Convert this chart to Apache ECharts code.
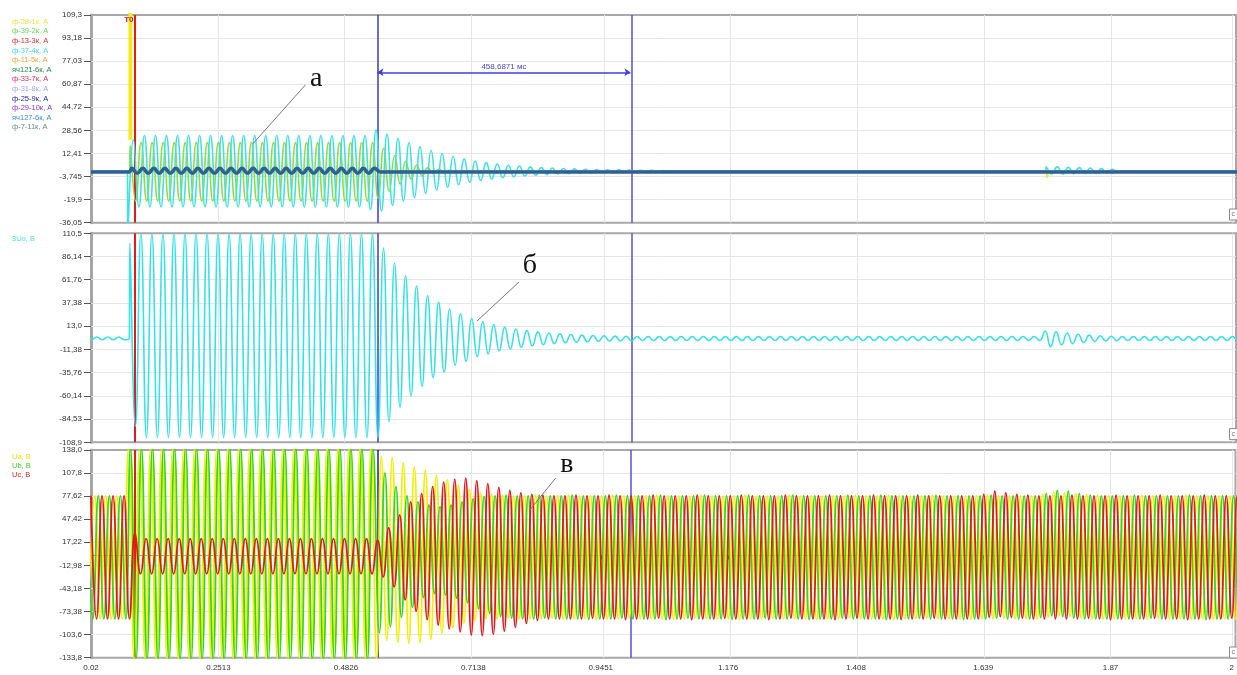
<!DOCTYPE html>
<html>
<head>
<meta charset="utf-8">
<title>Oscillogram</title>
<script src="https://cdn.jsdelivr.net/npm/echarts@6.0.0/dist/echarts.min.js"></script>
<style>
html,body{margin:0;padding:0;background:#fff;}
#chart{width:1237px;height:675px;}
</style>
</head>
<body>
<div id="chart"></div>
<script>
// ================= DATA =================
const HALF = 0.01; // half period of 50 Hz, s (spacing of successive extrema)

// x axis (time, s)
const xMin = 0.02, xMax = 2.0967;
const xTicks = [0.02, 0.2513, 0.4826, 0.7138, 0.9451, 1.176, 1.408, 1.639, 1.87, 2.09];
const xTickLabels = ['0.02', '0.2513', '0.4826', '0.7138', '0.9451', '1.176', '1.408', '1.639', '1.87', '2'];

// y axes
const y1Ticks = [109.3, 93.18, 77.03, 60.87, 44.72, 28.56, 12.41, -3.745, -19.9, -36.05];
const y1Labels = ['109,3', '93,18', '77,03', '60,87', '44,72', '28,56', '12,41', '-3,745', '-19,9', '-36,05'];
const y2Ticks = [110.5, 86.14, 61.76, 37.38, 13.0, -11.38, -35.76, -60.14, -84.53, -108.9];
const y2Labels = ['110,5', '86,14', '61,76', '37,38', '13,0', '-11,38', '-35,76', '-60,14', '-84,53', '-108,9'];
const y3Ticks = [138.0, 107.8, 77.62, 47.42, 17.22, -12.98, -43.18, -73.38, -103.6, -133.8];
const y3Labels = ['138,0', '107,8', '77,62', '47,42', '17,22', '-12,98', '-43,18', '-73,38', '-103,6', '-133,8'];

// cursors
const tT0 = 0.098, tCur1 = 0.5396, tCur2 = 0.9983;
const cursorText = '458,6871 мс';

// channel names / colours
const currentNames = ['ф-28-1к, А', 'ф-39-2к, А', 'ф-13-3к, А', 'ф-37-4к, А', 'ф-11-5к, А', 'яч121-6к, А',
  'ф-33-7к, А', 'ф-31-8к, А', 'ф-25-9к, А', 'ф-29-10к, А', 'яч127-6к, А', 'ф-7-11к, А'];
const currentColors = ['#efe33a', '#5ed94a', '#e02a2a', '#3fdede', '#f0a436', '#1f8a3f',
  '#e22a5e', '#a3a3ef', '#1f1f9e', '#8a35e0', '#3d8de6', '#62908a'];
const u0Names = ['3Uo, В'];
const u0Colors = ['#45e3ef'];
const phaseNames = ['Ua, В', 'Ub, В', 'Uc, В'];
const phaseColors = ['#efe300', '#44d822', '#e22222'];

// ---- panel 1: currents (extrema every HALF seconds) ----
const flatZero = [[0.02, 0], [2.1, 0]];
const f28Base = [[0.02, 0], [1.7525, 0], [1.754, -4.5], [1.7555, 0], [2.1, 0]];
const f28Spike = [[0.0915, 22], [0.0915, 150]];

const cyanStart = 0.0869;
const cyanFault = [-42, 22,
  -25, 25, -25, 25, -25, 25, -25, 25, -25, 25,
  -25, 25, -25, 25, -25, 25, -25, 25, -25, 25,
  -25, 25, -25, 25, -25, 25, -25, 25, -25, 25,
  -25, 25, -25, 25, -25, 25, -25, 25, -25, 25,
  -25, 25,
  -27, 29];
const cyanPost = [-28, 26, -24, 23, -21, 20, -18.5, 17, -15.5, 14.5, -13.3, 12.3, -11.2, 10.3, -9.4, 8.6,
  -7.8, 7.1, -6.5, 6, -5.5, 5, -4.6, 4.2, -3.9, 3.6, -3.3, 3, -2.8, 2.6, -2.4, 2.2, -2, 1.9, -1.7, 1.6,
  -1.5, 1.4, -1.3, 1.2, -1.1, 1, -1, 0.9, -0.9, 0.8, -0.8, 0.7, -0.7, 0.6, -0.6, 0.5, -0.5, 0];
const cyanBurstStart = 1.7525;
const cyanBurst = [3, -2, 3, -2, 2.8, -1.8, 2.5, -1.6, 2.2, -1.4, 1.8, -1.1, 1.3, -0.6];

const greenStart = 0.0909;
const greenFault = [18,
  -21, 20, -21, 20, -21, 20, -21, 20, -21, 20,
  -21, 20, -21, 20, -21, 20, -21, 20, -21, 20,
  -21, 20, -21, 20, -21, 20, -21, 20, -21, 20,
  -21, 20, -21, 20, -21, 20, -21, 20, -21, 20,
  -21, 20, -21, 20];
const greenPost = [-19, 16, -14, 11, -9, 7, -5.5, 4.3, -3.3, 2.5, -1.8, 1.3, -0.9, 0.6, -0.3, 0];

const darkStart = 0.0939;
const darkFault = [2, -1.5, 2, -1.5, 2, -1.5, 2, -1.5, 2, -1.5,
  2, -1.5, 2, -1.5, 2, -1.5, 2, -1.5, 2, -1.5,
  2, -1.5, 2, -1.5, 2, -1.5, 2, -1.5, 2, -1.5,
  2, -1.5, 2, -1.5, 2, -1.5, 2, -1.5, 2, -1.5,
  2, -1.5, 2, -1.5, 2];

// ---- panel 2: 3Uo ----
const u0PreStart = 0.0105;
const u0Pre = [1.6, -1.2, 1.6, -1.2, 1.6, -1.2, 1.6, -1.2];
const u0Edge = [[0.0895, 0.4]];
const u0Start = 0.0905;
const u0Fault = [100, -92,
  110, -104, 110, -104, 110, -104, 110, -104, 110, -104,
  110, -104, 110, -104, 110, -104, 110, -104, 110, -104,
  110, -104, 110, -104, 110, -104, 110, -104, 110, -104,
  110, -104, 110, -104, 110, -104, 110, -104, 110, -104,
  110, -104,
  110];
const u0Decay = [-104, 95, -87, 79, -72, 66, -60, 55, -50, 45, -41, 38, -35, 31, -28, 26, -24, 21, -19, 17.5,
  -16, 14.5, -13, 12, -11, 10, -9, 8.3, -7.6, 7, -6.4, 5.8, -5.3, 4.9, -4.5, 4.2, -3.9, 3.6, -3.4, 3.2,
  -3, 2.8, -2.7, 2.6, -2.5, 2.4, -2.3, 2.2];
const u0Ripple1 = [-2, 2.2, -2, 2.2, -2, 2.2, -2, 2.2, -2, 2.2, -2, 2.2, -2, 2.2, -2, 2.2, -2, 2.2, -2, 2.2,
  -2, 2.2, -2, 2.2, -2, 2.2, -2, 2.2, -2, 2.2, -2, 2.2, -2, 2.2, -2, 2.2, -2, 2.2, -2, 2.2,
  -2, 2.2, -2, 2.2, -2, 2.2, -2, 2.2, -2, 2.2, -2, 2.2, -2, 2.2, -2, 2.2, -2, 2.2, -2, 2.2,
  -2, 2.2, -2, 2.2, -2, 2.2, -2, 2.2, -2, 2.2, -2, 2.2, -2];
const u0Burst = [8, -8.5, 7, -6.5, 5.8, -5.3, 4.6, -4.1, 3.6, -3.2, 2.9, -2.6, 2.4, -2.2];
const u0Ripple2 = [2.2, -2, 2.2, -2, 2.2, -2, 2.2, -2, 2.2, -2, 2.2, -2, 2.2, -2, 2.2, -2, 2.2, -2, 2.2, -2,
  2.2, -2, 2.2, -2];

// ---- panel 3: phase voltages (segment start times + extrema) ----
const uaPreStart = 0.0167;
const uaPre = [-83, 78, -83, 78, -83, 78, -83];
const uaFaultStart = 0.0884;
const uaFault = [141, -137, 141, -137, 141, -137, 141, -137, 141, -137,
  141, -137, 141, -137, 141, -137, 141, -137, 141, -137,
  141, -137, 141, -137, 141, -137, 141, -137, 141, -137,
  141, -137, 141, -137, 141, -137, 141, -137, 141, -137,
  141, -137, 141, -137, 141, -137];
const uaPostStart = 0.5467;
const uaPost = [130, -111, 128, -114, 121, -115, 116, -114, 112, -110,
  105, -102, 99, -95, 92, -89, 86, -85, 82, -83,
  80, -83, 79, -82, 78, -83];
const uaSteady = [78, -83, 79, -83, 78, -82, 78, -83, 79, -83,
  78, -83, 78, -84, 78, -83, 79, -83, 78, -82,
  78, -83, 78, -83, 79, -83, 78, -84, 78, -83,
  78, -82, 79, -83, 78, -83, 78, -83, 78, -84,
  79, -83, 78, -83, 78, -82, 78, -83, 79, -83,
  78, -83, 78, -84, 78, -83, 78, -83, 78, -82,
  79, -83, 78, -83, 78, -83, 79, -84, 78, -83,
  78, -83, 78, -82, 79, -83, 78, -83, 78, -83,
  78, -84, 78, -83, 79, -83, 78, -82, 78, -83,
  78, -83, 78, -83, 80, -81, 83, -79, 82, -80,
  81, -82, 80, -83, 79, -83, 78, -83, 78, -83,
  78, -83, 79, -83, 78, -82, 78, -83, 78, -83,
  79, -83, 78, -83, 78, -84, 78, -83, 78, -83, 78, -83];

const ubPreStart = 0.0133;
const ubPre = [78, -83, 78, -83, 78, -83, 78, -83];
const ubFaultStart = 0.0916;
const ubFault = [141,
  -137, 141, -137, 141, -137, 141, -137, 141, -137, 141,
  -137, 141, -137, 141, -137, 141, -137, 141, -137, 141,
  -137, 141, -137, 141, -137, 141, -137, 141, -137, 141,
  -137, 141, -137, 141, -137, 141, -137, 141, -137, 141,
  -137, 141, -137, 141];
const ubPostStart = 0.5433;
const ubPost = [-101, 108, -93, 90, -81, 78, -68, 70, -55, 66,
  -50, 64, -52, 66, -56, 70, -62, 74, -70, 77,
  -76, 78, -80, 79, -82, 78];
const ubSteady = [-83, 78, -83, 79, -82, 78, -83, 78, -83, 79,
  -83, 78, -84, 78, -83, 78, -83, 79, -82, 78,
  -83, 78, -83, 78, -83, 79, -84, 78, -83, 78,
  -82, 78, -83, 79, -83, 78, -83, 78, -84, 78,
  -83, 79, -83, 78, -82, 78, -83, 78, -83, 79,
  -83, 78, -84, 78, -83, 78, -83, 78, -82, 79,
  -83, 78, -83, 78, -83, 79, -84, 78, -83, 78,
  -83, 78, -82, 78, -83, 79, -83, 78, -83, 78,
  -84, 78, -83, 78, -83, 79, -82, 78, -83, 78,
  -83, 78, -83, 78, -81, 81, -79, 85, -80, 84,
  -82, 81, -83, 79, -83, 78, -83, 78, -83, 78,
  -83, 79, -83, 78, -82, 78, -83, 78, -83, 78,
  -83, 79, -83, 78, -84, 78, -83, 78, -83, 78, -83, 78];

const ucStart = 0.02;
const ucPre = [78, -83, 78, -83, 78, -83, 78];
const ucFault = [-83, 30,
  -24, 22, -24, 22, -24, 22, -24, 22, -24, 22,
  -24, 22, -24, 22, -24, 22, -24, 22, -24, 22,
  -24, 22, -24, 22, -24, 22, -24, 22, -24, 22,
  -24, 22, -24, 22, -24, 22, -24, 22, -24, 22,
  -24, 22,
  -24];
const ucPost = [20, -28, 36, -41, 53, -58, 70, -73, 81, -84,
  90, -91, 96, -96, 100, -100, 101, -104, 98, -105,
  94, -103, 89, -99, 85, -94, 82, -89, 80, -85,
  79, -83, 78, -83];
const ucSteady = [78, -83, 79, -83, 78, -82, 78, -83, 79, -83,
  78, -84, 78, -83, 78, -83, 79, -82, 78, -83,
  78, -83, 78, -84, 79, -83, 78, -83, 78, -82,
  78, -83, 79, -83, 78, -83, 78, -84, 78, -83,
  79, -82, 78, -83, 78, -83, 78, -83, 79, -84,
  78, -83, 78, -82, 78, -83, 79, -83, 78, -83,
  78, -84, 78, -83, 79, -83, 78, -82, 78, -83,
  78, -83, 78, -83, 78, -83, 80, -81, 84, -80,
  82, -81, 80, -82, 79, -83, 78, -83, 78, -83,
  78, -83, 79, -83, 78, -82, 78, -83, 78, -84,
  79, -83, 78, -83, 78, -83, 78, -82, 79, -83,
  78, -83, 78, -84, 78, -83, 79, -83, 78, -83,
  78, -82, 78, -83, 79, -83, 78, -83, 78, -83];

// annotation letters (data coordinates of each panel)
const noteA = {text: 'а', at: [0.4286, 64.85], from: [0.4087, 60.3], to: [0.3144, 19.5]};
const noteB = {text: 'б', at: [0.8162, 76.2], from: [0.7963, 59.4], to: [0.7201, 18.4]};
const noteV = {text: 'в', at: [0.8833, 118.4], from: [0.8634, 101.4], to: [0.8162, 59.5]};
const arrowLevel = 69.2;
const t0LabelLevel = 105.8;

// ================= BUILD =================
const wave = (t0, vals) => vals.map((v, i) => [+(t0 + i * HALF).toFixed(5), v]);

const cyanData = [[0.02, 0], [0.0859, 0]].concat(wave(cyanStart, cyanFault.concat(cyanPost)),
  [[1.09, 0], [1.7515, 0]], wave(cyanBurstStart, cyanBurst), [[1.895, 0], [2.1, 0]]);
const greenData = [[0.02, 0], [0.0899, 0]].concat(wave(greenStart, greenFault.concat(greenPost)), [[0.72, 0], [2.1, 0]]);
const darkData = [[0.02, -0.5], [0.0889, -0.5]].concat(wave(darkStart, darkFault), [[0.545, -0.5], [2.1, -0.5]]);
const u0Data = wave(u0PreStart, u0Pre).concat(u0Edge,
  wave(u0Start, u0Fault.concat(u0Decay, u0Ripple1, u0Burst, u0Ripple2)));
const uaData = wave(uaPreStart, uaPre).concat(wave(uaFaultStart, uaFault), wave(uaPostStart, uaPost.concat(uaSteady)));
const ubData = wave(ubPreStart, ubPre).concat(wave(ubFaultStart, ubFault), wave(ubPostStart, ubPost.concat(ubSteady)));
const ucData = wave(ucStart, ucPre.concat(ucFault, ucPost, ucSteady));

const FONT = '"Liberation Sans", Arial, sans-serif';
const GRID_LEFT = 91, GRID_W = 1145;
const grids = [
  {left: GRID_LEFT, top: 15, width: GRID_W, height: 207.7},
  {left: GRID_LEFT, top: 233.3, width: GRID_W, height: 209},
  {left: GRID_LEFT, top: 450, width: GRID_W, height: 207.7}
].map(g => Object.assign(g, {show: true, borderColor: '#a8a8a8', borderWidth: 2, backgroundColor: '#fff', containLabel: false}));

function labeler(vals, labels) {
  return v => {
    let b = 0;
    for (let i = 1; i < vals.length; i++) if (Math.abs(vals[i] - v) < Math.abs(vals[b] - v)) b = i;
    return labels[b];
  };
}

const yDefs = [[y1Ticks, y1Labels], [y2Ticks, y2Labels], [y3Ticks, y3Labels]];
const yAxes = yDefs.map(([ticks, labels], i) => ({
  type: 'value', gridIndex: i, min: ticks[ticks.length - 1], max: ticks[0],
  axisLine: {show: true, lineStyle: {color: '#a6a6a6', width: 3}},
  axisTick: {show: true, customValues: ticks, length: 7, lineStyle: {color: '#555', width: 1}},
  axisLabel: {show: true, customValues: ticks, formatter: labeler(ticks, labels),
    fontSize: 8, color: '#333', margin: 9, fontFamily: FONT},
  splitLine: {show: false}
}));
const xAxes = [0, 1, 2].map(i => ({
  type: 'value', gridIndex: i, min: xMin, max: xMax, show: i === 2, position: 'bottom', offset: 3,
  axisLine: {show: true, lineStyle: {color: '#9a9a9a', width: 1}},
  axisTick: {show: true, customValues: xTicks, length: 4, lineStyle: {color: '#444', width: 1}},
  axisLabel: {show: true, customValues: xTicks, formatter: labeler(xTicks, xTickLabels),
    fontSize: 8, color: '#333', margin: 3, fontFamily: FONT},
  splitLine: {show: false}
}));

function line(name, p, data, color, width, z, smooth) {
  return {name, type: 'line', xAxisIndex: p, yAxisIndex: p, data, showSymbol: false, symbol: 'none',
    smooth: smooth === undefined ? true : smooth, lineStyle: {color, width}, itemStyle: {color},
    z, silent: true, animation: false, clip: true};
}

const series = [];
// grid lines + cursors per panel
const yTickSets = [y1Ticks, y2Ticks, y3Ticks];
for (let p = 0; p < 3; p++) {
  series.push({type: 'line', xAxisIndex: p, yAxisIndex: p, data: [], silent: true, z: 1,
    markLine: {silent: true, symbol: 'none', z: 1, animation: false, label: {show: false},
      lineStyle: {color: '#e6e6e6', width: 1, type: 'solid'},
      data: yTickSets[p].slice(1, -1).map(v => ({yAxis: v})).concat(xTicks.slice(1).map(v => ({xAxis: v})))}});
  series.push({type: 'line', xAxisIndex: p, yAxisIndex: p, data: [], silent: true, z: 2,
    markLine: {silent: true, symbol: 'none', z: 2, animation: false, label: {show: false},
      data: [
        {xAxis: tCur1, lineStyle: {color: p === 2 ? '#1e1e9c' : '#3a3ad0', width: 1.5, type: 'solid'}},
        {xAxis: tCur2, lineStyle: {color: '#5050e2', width: 1.5, type: 'solid'}},
        {xAxis: tT0, lineStyle: {color: '#e31b1b', width: 2, type: 'solid'}}
      ]}});
}

// panel 1 channels
const flatIdx = [2, 4, 5, 6, 7, 9, 10, 11];
flatIdx.forEach(i => series.push(line(currentNames[i], 0, flatZero, currentColors[i], 1, 3, false)));
series.push(line(currentNames[0], 0, f28Base, '#f2ea20', 2, 4, false));
series.push(line(currentNames[0] + ' ', 0, f28Spike, '#f2ea20', 4, 4, false));
series.push(line(currentNames[1], 0, greenData, '#93dc3c', 1.6, 5));
series.push(line(currentNames[3], 0, cyanData, '#3ee2e2', 1.6, 6));
series.push(line(currentNames[8], 0, darkData, '#2f5e98', 3.5, 7));

// panel 2
series.push(line(u0Names[0], 1, u0Data, '#36e2ea', 1.6, 5));

// panel 3
series.push(line(phaseNames[0], 2, uaData, '#f3ee00', 1.8, 4));
series.push(line(phaseNames[1], 2, ubData, '#35d814', 1.8, 5));
series.push(line(phaseNames[2], 2, ucData, '#e8161a', 1.8, 6));

// measurement arrow + T0 label + letters
const letterLabel = {show: true, fontFamily: '"Liberation Serif", "DejaVu Serif", serif', fontSize: 28, color: '#111', position: 'inside'};
function noteSeries(p, note, extraPoints) {
  return {type: 'line', xAxisIndex: p, yAxisIndex: p, data: [], silent: true, z: 8,
    markLine: {silent: true, symbol: 'none', z: 8, animation: false, label: {show: false},
      lineStyle: {color: '#777', width: 1, type: 'solid'},
      data: [[{coord: note.from}, {coord: note.to}]]},
    markPoint: {silent: true, z: 9, animation: false, symbol: 'rect', symbolSize: 1,
      itemStyle: {color: 'rgba(0,0,0,0)'},
      data: [{coord: note.at, label: Object.assign({formatter: note.text}, letterLabel)}].concat(extraPoints || [])}};
}
series.push(noteSeries(0, noteA, [
  {coord: [tT0, t0LabelLevel], label: {show: true, formatter: 'T0', position: 'left', distance: 0,
    fontSize: 8, fontWeight: 'bold', color: '#e01818', fontFamily: FONT}}
]));
series.push({type: 'line', xAxisIndex: 0, yAxisIndex: 0, data: [], silent: true, z: 8,
  markLine: {silent: true, z: 8, animation: false, symbol: ['arrow', 'arrow'], symbolSize: 6,
    lineStyle: {color: '#3f3fdc', width: 1.5, type: 'solid'},
    label: {show: true, position: 'middle', formatter: cursorText, fontSize: 8, color: '#4646d4', distance: 2, fontFamily: FONT},
    data: [[{coord: [tCur1, arrowLevel]}, {coord: [tCur2, arrowLevel]}]]}});
series.push(noteSeries(1, noteB));
series.push(noteSeries(2, noteV));

// legends (coloured channel names) and small corner boxes
const graphics = [];
const legendBlocks = [
  {names: currentNames, colors: currentColors, y0: 21.7, step: 9.6},
  {names: u0Names, colors: u0Colors, y0: 239, step: 9.6},
  {names: phaseNames, colors: phaseColors, y0: 456.7, step: 9.2}
];
legendBlocks.forEach(b => b.names.forEach((n, i) => graphics.push({
  type: 'text', x: 12, y: b.y0 + i * b.step, silent: true,
  style: {text: n, fill: b.colors[i], fontSize: 7.5, fontFamily: FONT, verticalAlign: 'middle', align: 'left'}
})));
[209, 428.6, 647].forEach(y => {
  graphics.push({type: 'rect', x: 1229.5, y: y, silent: true, z: 100,
    shape: {x: 0, y: 0, width: 8, height: 11}, style: {fill: '#fff', stroke: '#8a8a8a', lineWidth: 1}});
  graphics.push({type: 'text', x: 1231.5, y: y + 5.5, silent: true, z: 101,
    style: {text: 'c', fill: '#777', fontSize: 7, fontFamily: FONT, verticalAlign: 'middle'}});
});

const chart = echarts.init(document.getElementById('chart'), null, {renderer: 'canvas'});
chart.setOption({
  animation: false,
  backgroundColor: '#ffffff',
  textStyle: {fontFamily: FONT},
  grid: grids,
  xAxis: xAxes,
  yAxis: yAxes,
  series: series,
  graphic: graphics
});
</script>
</body>
</html>
